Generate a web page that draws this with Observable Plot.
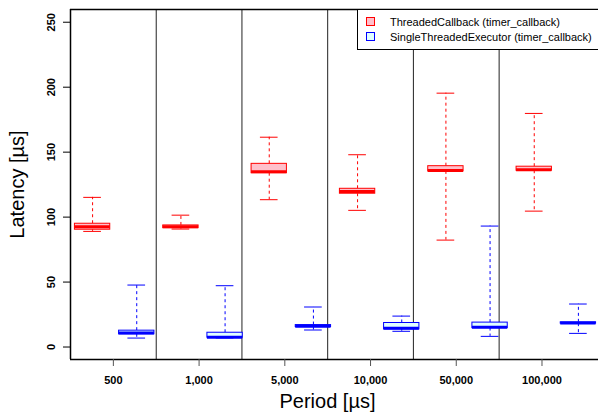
<!DOCTYPE html>
<html>
<head>
<meta charset="utf-8">
<script src="https://cdn.jsdelivr.net/npm/d3@7"></script>
<script src="https://cdn.jsdelivr.net/npm/@observablehq/plot@0.6"></script>
<style>
  html, body { margin: 0; padding: 0; background: #fff; }
  #chart svg { display: block; }
</style>
</head>
<body>
<div id="chart"></div>
<script>
// ---- data ----
const periods = ["500", "1,000", "5,000", "10,000", "50,000", "100,000"];
const seriesNames = ["ThreadedCallback (timer_callback)", "SingleThreadedExecutor (timer_callback)"];

const threadedLower  = [89.0, 90.8, 113.4, 105.2, 82.3, 104.6];
const threadedQ1     = [90.3, 91.5, 133.8, 118.0, 135.2, 135.7];
const threadedMedian = [92.6, 92.5, 134.9, 119.8, 135.9, 136.5];
const threadedQ3     = [94.9, 93.6, 141.0, 121.8, 139.2, 138.8];
const threadedUpper  = [115.2, 101.5, 161.5, 148.0, 195.4, 179.8];

const singleLower  = [6.9, 7.0, 13.1, 12.1, 8.2, 10.5];
const singleQ1     = [9.8, 7.2, 15.4, 13.6, 14.6, 18.0];
const singleMedian = [10.8, 7.5, 16.0, 14.4, 15.2, 18.5];
const singleQ3     = [12.6, 11.0, 16.9, 18.5, 18.8, 19.0];
const singleUpper  = [47.7, 47.2, 30.8, 23.8, 93.1, 33.1];

const yTicks = [0, 50, 100, 150, 200, 250];

// ---- layout / style ----
const strokes = ["#ff0000", "#0000ff"];
const fills = ["#ffc0cb", "#e0ffff"];
const font = "'Liberation Sans', Arial, Helvetica, sans-serif";
const boxHalf = 0.4, stapleHalf = 0.2;
const groupStep = 1.941;           // axis/separator spacing (in box units)
const xDomain = [0.5, 12.455];
const yDomain = [-9.6, 259.8];

const stats = [
  {lower: threadedLower, q1: threadedQ1, median: threadedMedian, q3: threadedQ3, upper: threadedUpper},
  {lower: singleLower, q1: singleQ1, median: singleMedian, q3: singleQ3, upper: singleUpper}
];
const rowsBySeries = stats.map((st, s) => periods.map((p, g) => ({
  period: p, series: seriesNames[s], pos: 2 * g + s + 1,
  lower: st.lower[g], q1: st.q1[g], median: st.median[g], q3: st.q3[g], upper: st.upper[g]
})));

const tickPos = periods.map((p, g) => xDomain[0] + groupStep * (g + 0.5));
const sepPos = periods.slice(1).map((p, g) => xDomain[0] + groupStep * (g + 1));
const tickRows = periods.map((p, g) => ({label: p, x: tickPos[g]}));

function boxMarks(rows, s) {
  const stroke = strokes[s], fill = fills[s];
  return [
    Plot.ruleX(rows, {x: "pos", y1: "q3", y2: "upper", stroke, strokeDasharray: "3,3"}),
    Plot.ruleX(rows, {x: "pos", y1: "q1", y2: "lower", stroke, strokeDasharray: "3,3"}),
    Plot.ruleY(rows, {y: "upper", x1: d => d.pos - stapleHalf, x2: d => d.pos + stapleHalf, stroke}),
    Plot.ruleY(rows, {y: "lower", x1: d => d.pos - stapleHalf, x2: d => d.pos + stapleHalf, stroke}),
    Plot.rect(rows, {x1: d => d.pos - boxHalf, x2: d => d.pos + boxHalf, y1: "q1", y2: "q3", fill, stroke}),
    Plot.ruleY(rows, {y: "median", x1: d => d.pos - boxHalf, x2: d => d.pos + boxHalf, stroke, strokeWidth: 3})
  ];
}

function legendMark() {
  const g = d3.create("svg:g").attr("font-family", font).attr("font-size", 11)
    .attr("text-anchor", "start");
  g.append("rect").attr("x", 357.5).attr("y", 9.5).attr("width", 260).attr("height", 40)
    .attr("fill", "white").attr("stroke", "black");
  seriesNames.forEach((name, i) => {
    const cy = 22 + i * 15;
    g.append("rect").attr("x", 366.5).attr("y", cy - 4.5).attr("width", 8).attr("height", 8)
      .attr("fill", fills[i]).attr("stroke", strokes[i]).attr("stroke-width", 1);
    g.append("text").attr("x", 390).attr("y", cy).attr("dy", "0.35em")
      .attr("text-anchor", "start").attr("fill", "black").text(name);
  });
  return g.node();
}

const chart = Plot.plot({
  width: 598,
  height: 415,
  marginLeft: 70,
  marginRight: 0,
  marginTop: 9,
  marginBottom: 56,
  style: {fontFamily: font, background: "white", color: "black"},
  x: {domain: xDomain, axis: null},
  y: {domain: yDomain, axis: null},
  marks: [
    // separators
    Plot.ruleX(sepPos, {x: d => d, y1: yDomain[0], y2: yDomain[1], stroke: "#222", strokeWidth: 1}),
    // boxes
    ...boxMarks(rowsBySeries[0], 0),
    ...boxMarks(rowsBySeries[1], 1),
    // frame lines (left, top, bottom)
    Plot.ruleX([xDomain[0]], {x: d => d, y1: yDomain[0], y2: yDomain[1], stroke: "black", strokeWidth: 1.5}),
    Plot.ruleY([yDomain[0], yDomain[1]], {y: d => d, stroke: "black", strokeWidth: 1.5}),
    // axes ticks
    Plot.axisY({ticks: yTicks, tickSize: 7, tickFormat: () => "", label: null, stroke: "black"}),
    Plot.axisX({ticks: tickPos, tickSize: 7, tickFormat: () => "", label: null, stroke: "#555"}),
    // tick labels
    Plot.text(yTicks, {y: d => d, frameAnchor: "left", textAnchor: "middle", lineAnchor: "middle",
      dx: -19, rotate: -90, text: d => String(d), fontWeight: "bold", fontSize: 11, fill: "black"}),
    Plot.text(tickRows, {x: "x", text: "label", frameAnchor: "bottom", textAnchor: "middle", lineAnchor: "middle",
      dy: 21, fontWeight: "bold", fontSize: 11, fill: "black"}),
    // axis titles
    Plot.text(["Latency [µs]"], {frameAnchor: "left", textAnchor: "middle", lineAnchor: "middle",
      dx: -53, rotate: -90, fontSize: 20, fill: "black"}),
    Plot.text(["Period [µs]"], {frameAnchor: "bottom", textAnchor: "middle", lineAnchor: "middle",
      dx: -7, dy: 42, fontSize: 20, fill: "black"}),
    // legend
    legendMark
  ]
});
document.getElementById("chart").appendChild(chart);
</script>
</body>
</html>
